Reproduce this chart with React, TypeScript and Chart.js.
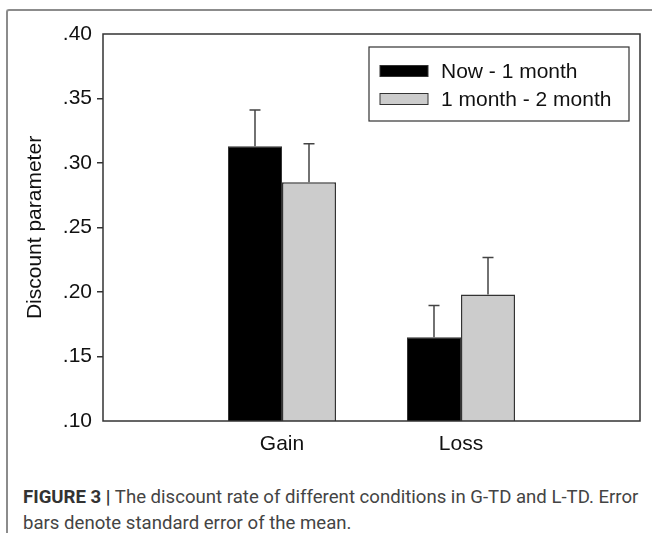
import React, { useEffect, useRef } from "react";
import { Chart, registerables } from "chart.js";

Chart.register(...registerables);

// ---- data ----
const categories = ["", "Gain", "Loss", ""];
const seriesNames = ["Now - 1 month", "1 month - 2 month"];
const nowToOneMonth = [null, 0.313, 0.165, null];
const oneToTwoMonth = [null, 0.285, 0.198, null];
const nowToOneMonthErr = [null, 0.028, 0.0245, null];
const oneToTwoMonthErr = [null, 0.03, 0.0287, null];
const yTicks = [0.1, 0.15, 0.2, 0.25, 0.3, 0.35, 0.4];
const yTitle = "Discount parameter";

const FONT = "'Liberation Sans', Arial, sans-serif";
const LINE = "#333333";

const errorBarPlugin = {
  id: "errorBars",
  afterDatasetsDraw(chart: any) {
    const ctx = chart.ctx;
    const y = chart.scales.y;
    chart.data.datasets.forEach((ds: any, i: number) => {
      const meta = chart.getDatasetMeta(i);
      meta.data.forEach((bar: any, j: number) => {
        const v = ds.data[j];
        const e = ds.errors ? ds.errors[j] : null;
        if (v == null || e == null) return;
        const top = y.getPixelForValue(v + e);
        ctx.save();
        ctx.strokeStyle = "#444444";
        ctx.lineWidth = 1.5;
        ctx.beginPath();
        ctx.moveTo(bar.x, bar.y);
        ctx.lineTo(bar.x, top);
        ctx.moveTo(bar.x - 5.5, top);
        ctx.lineTo(bar.x + 5.5, top);
        ctx.stroke();
        ctx.restore();
      });
    });
  },
};

const boxPlugin = {
  id: "plotBox",
  afterDraw(chart: any) {
    const { left, right, top, bottom } = chart.chartArea;
    const ctx = chart.ctx;
    ctx.save();
    ctx.strokeStyle = LINE;
    ctx.lineWidth = 1.5;
    ctx.strokeRect(left, top, right - left, bottom - top);
    ctx.restore();
  },
};

const legendPlugin = {
  id: "boxLegend",
  afterDraw(chart: any) {
    const { right, top } = chart.chartArea;
    const ctx = chart.ctx;
    const boxR = right - 11;
    const boxL = boxR - 260;
    const boxT = top + 13;
    const boxH = 74;
    ctx.save();
    ctx.fillStyle = "#ffffff";
    ctx.fillRect(boxL, boxT, boxR - boxL, boxH);
    ctx.strokeStyle = LINE;
    ctx.lineWidth = 1.2;
    ctx.strokeRect(boxL, boxT, boxR - boxL, boxH);
    ctx.font = `21px ${FONT}`;
    ctx.textBaseline = "middle";
    ctx.textAlign = "left";
    chart.data.datasets.forEach((ds: any, i: number) => {
      const cy = boxT + 24 + i * 28;
      ctx.fillStyle = ds.backgroundColor;
      ctx.fillRect(boxL + 11, cy - 5.5, 48, 11);
      ctx.strokeStyle = LINE;
      ctx.lineWidth = 1;
      ctx.strokeRect(boxL + 11, cy - 5.5, 48, 11);
      ctx.fillStyle = "#111111";
      ctx.fillText(ds.label, boxL + 72, cy + 1);
    });
    ctx.restore();
  },
};

function BarChart() {
  const ref = useRef<HTMLCanvasElement | null>(null);
  useEffect(() => {
    if (!ref.current) return;
    const chart = new Chart(ref.current, {
      type: "bar",
      data: {
        labels: categories,
        datasets: [
          {
            label: seriesNames[0],
            data: nowToOneMonth,
            errors: nowToOneMonthErr,
            backgroundColor: "#000000",
            borderColor: LINE,
            borderWidth: 1,
          } as any,
          {
            label: seriesNames[1],
            data: oneToTwoMonth,
            errors: oneToTwoMonthErr,
            backgroundColor: "#cccccc",
            borderColor: LINE,
            borderWidth: 1.5,
          } as any,
        ],
      },
      options: {
        responsive: false,
        animation: false,
        devicePixelRatio: 1,
        categoryPercentage: 0.6034,
        barPercentage: 1,
        layout: { padding: { top: 34, right: 12, left: 0, bottom: 0 } },
        plugins: {
          legend: { display: false },
          tooltip: { enabled: false },
        },
        scales: {
          x: {
            type: "category",
            offset: false,
            grid: { display: false, drawTicks: false },
            border: { display: false },
            ticks: {
              color: "#111111",
              font: { family: FONT, size: 21 },
              padding: 11,
              maxRotation: 0,
              autoSkip: false,
            },
            afterFit(scale: any) {
              scale.height = 49;
            },
          },
          y: {
            min: 0.1,
            max: 0.4,
            afterBuildTicks(scale: any) {
              scale.ticks = yTicks.map((v) => ({ value: v }));
            },
            grid: {
              drawOnChartArea: false,
              drawTicks: true,
              tickLength: 6,
              lineWidth: 1.5,
              color: (c: any) => {
                const v = c.tick ? c.tick.value : null;
                if (v == null) return "rgba(0,0,0,0)";
                if (Math.abs(v - 0.4) < 1e-9 || Math.abs(v - 0.1) < 1e-9) return "rgba(0,0,0,0)";
                return LINE;
              },
            },
            border: { display: false },
            ticks: {
              color: "#111111",
              font: { family: FONT, size: 21 },
              padding: 5,
              callback: (v: any) => Number(v).toFixed(2).replace(/^0/, ""),
            },
            title: {
              display: true,
              text: yTitle,
              color: "#111111",
              font: { family: FONT, size: 21 },
              padding: { top: 23, bottom: 0 },
            },
            afterFit(scale: any) {
              scale.width = 103;
            },
          },
        },
      } as any,
      plugins: [errorBarPlugin, boxPlugin, legendPlugin],
    });
    return () => chart.destroy();
  }, []);
  return (
    <canvas
      ref={ref}
      width={652}
      height={470}
      style={{ position: "absolute", left: 0, top: 0, width: 652, height: 470 }}
    />
  );
}

export default function App() {
  return (
    <div
      style={{
        position: "absolute",
        left: 0,
        top: 0,
        width: 652,
        height: 533,
        overflow: "hidden",
        background: "#ffffff",
      }}
    >
      <div
        style={{
          position: "absolute",
          left: 6,
          top: 9,
          width: 800,
          height: 800,
          borderLeft: "2px solid #8c8c8c",
          borderTop: "2px solid #8c8c8c",
          borderTopLeftRadius: 3,
        }}
      />
      <BarChart />
      <div
        style={{
          position: "absolute",
          left: 23,
          top: 484,
          width: 640,
          fontFamily: "Roboto, 'Liberation Sans', sans-serif",
          fontSize: 18.6,
          lineHeight: "26px",
          color: "#444444",
          whiteSpace: "nowrap",
        }}
      >
        <span style={{ fontWeight: 700, color: "#333333" }}>FIGURE 3 |</span> The discount rate of
        different conditions in G-TD and L-TD. Error
        <br />
        bars denote standard error of the mean.
      </div>
    </div>
  );
}
